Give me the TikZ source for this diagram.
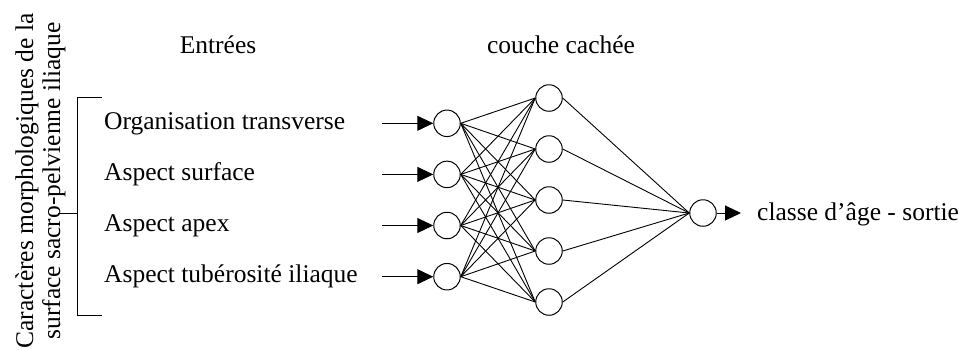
\documentclass[tikz,border=0pt]{standalone}
\usepackage{fontspec}
\setmainfont{Liberation Serif}
\usetikzlibrary{arrows.meta}
\begin{document}
\begin{tikzpicture}[x=1pt,y=-1pt,
  neuron/.style={circle,draw,line width=1pt,minimum size=26.5pt,inner sep=0pt},
  lbl/.style={inner sep=0pt,font=\fontsize{25.5}{30}\selectfont},
  link/.style={line width=0.9pt},
  bracketline/.style={line width=1pt},
  inarrow/.style={line width=1pt,-{Triangle[length=16pt,width=15pt]}}]
\useasboundingbox (0,0) rectangle (960,349);

% titles
\node[lbl,anchor=base] (tin) at (218,53) {Entrées};
\node[lbl,anchor=base] (thid) at (561,53) {couche cachée};

% rotated side label
\node[lbl,anchor=base,rotate=90] (side1) at (33,181) {Caractères morphologiques de la};
\node[lbl,anchor=base,rotate=90] (side2) at (60,181) {surface sacro-pelvienne iliaque};

% bracket
\draw[bracketline] (102,97) -- (77,97) -- (77,315) -- (102,315);
\draw[bracketline] (58,213) -- (77,213);

% input layer
\foreach \i/\y in {1/123.3,2/174.4,3/225.5,4/276.7}{
  \node[neuron] (in\i) at (447,\y) {};
  \coordinate (a\i) at (382,\y);
  \draw[inarrow] (a\i) -- (in\i);
}
\node[lbl,anchor=base west] (l1) at (104,129.3) {Organisation transverse};
\node[lbl,anchor=base west] (l2) at (104,180.4) {Aspect surface};
\node[lbl,anchor=base west] (l3) at (104,231.5) {Aspect apex};
\node[lbl,anchor=base west] (l4) at (104,282.7) {Aspect tubérosité iliaque};

% hidden layer
\foreach \j/\y in {1/98,2/149,3/200,4/251,5/302}{
  \node[neuron] (h\j) at (549,\y) {};
}

% output
\node[neuron] (out) at (703,213) {};
\coordinate (oend) at (741,213);
\draw[inarrow] (out) -- (oend);
\node[lbl,anchor=base west] (lout) at (757,220) {classe d’âge - sortie};

% connections
\foreach \i in {1,...,4}{
  \foreach \j in {1,...,5}{
    \draw[link] (in\i.east) -- (h\j.west);
  }
}
\foreach \j in {1,...,5}{
  \draw[link] (h\j.east) -- (out.west);
}
\end{tikzpicture}
\end{document}
